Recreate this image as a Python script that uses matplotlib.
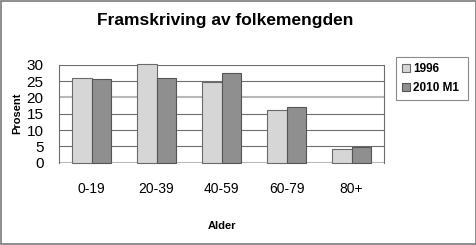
import numpy as np
import matplotlib.pyplot as plt
from matplotlib.patches import Rectangle

plt.rcParams['font.family'] = ['Liberation Sans', 'DejaVu Sans']

# Data
age_groups = ['0-19', '20-39', '40-59', '60-79', '80+']
share_1996 = [25.8, 30.2, 24.7, 16.2, 4.2]
share_2010 = [25.6, 25.9, 27.5, 17.0, 4.8]
series_names = ['1996', '2010 M1']
yticks = [0, 5, 10, 15, 20, 25, 30]

W, H = 477, 245
fig = plt.figure(figsize=(W / 100, H / 100), dpi=100)

# plot area in pixel coords: x 59..384, y 64.7..162.7
left, right = 59 / W, 384 / W
top, bottom = 1 - 64.7 / H, 1 - 162.7 / H
ax = fig.add_axes([left, bottom, right - left, top - bottom])

x = np.arange(len(age_groups))
bw = 0.295
b1 = ax.bar(x - bw / 2, share_1996, bw, color='#d6d6d6', edgecolor='#6a6a6a',
            linewidth=0.8, label=series_names[0], zorder=3)
b2 = ax.bar(x + bw / 2, share_2010, bw, color='#8f8f8f', edgecolor='#555555',
            linewidth=0.8, label=series_names[1], zorder=3)
for p in list(b1) + list(b2):
    p.set_clip_on(False)

ax.set_xlim(-0.5, len(age_groups) - 0.5)
ax.set_ylim(0, 30)
ax.set_yticks(yticks)
ax.set_yticklabels([str(t) for t in yticks], fontsize=11)
ax.set_xticks(x)
ax.set_xticklabels(age_groups, fontsize=10)
ax.tick_params(axis='both', length=0)
ax.tick_params(axis='y', pad=11)
ax.tick_params(axis='x', pad=14)

# gridlines: most dark, 20 and 0 light
for t in yticks:
    c = '#b8b8b8' if t in (0, 20) else '#6e6e6e'
    lw = 1.5 if t in (0, 20) else 0.8
    ax.axhline(t, color=c, linewidth=lw, zorder=1)

for s in ['top', 'bottom']:
    ax.spines[s].set_visible(False)
ax.spines['left'].set_color('#6e6e6e')
ax.spines['right'].set_color('#6e6e6e')
ax.spines['left'].set_linewidth(0.8)
ax.spines['right'].set_linewidth(0.8)

ax.set_ylabel('Prosent', fontsize=8, fontweight='bold', labelpad=3)
ax.set_xlabel('Alder', fontsize=8, fontweight='bold', labelpad=18)

fig.text(225.5 / W, 1 - 20 / H, 'Framskriving av folkemengden', ha='center',
         va='center', fontsize=12.5, fontweight='bold')

leg = ax.legend(loc='upper left', bbox_to_anchor=(395.7 / W, 1 - 98.3 / H,
                72 / W, 41 / H), bbox_transform=fig.transFigure,
                mode='expand', fontsize=8.5, frameon=True, fancybox=False,
                handlelength=0.7, handleheight=0.7, handletextpad=0.3,
                borderpad=0.5, labelspacing=0.6, borderaxespad=0)
for txt in leg.get_texts():
    txt.set_fontweight('bold')
leg.get_frame().set_edgecolor('#6e6e6e')
leg.get_frame().set_linewidth(0.8)

# figure border
fig.patches.append(Rectangle((0.002, 0.004), 0.996, 0.992,
                             transform=fig.transFigure, fill=False,
                             edgecolor='#7a7a7a', linewidth=1.2))

fig.savefig('out.png', dpi=100)
